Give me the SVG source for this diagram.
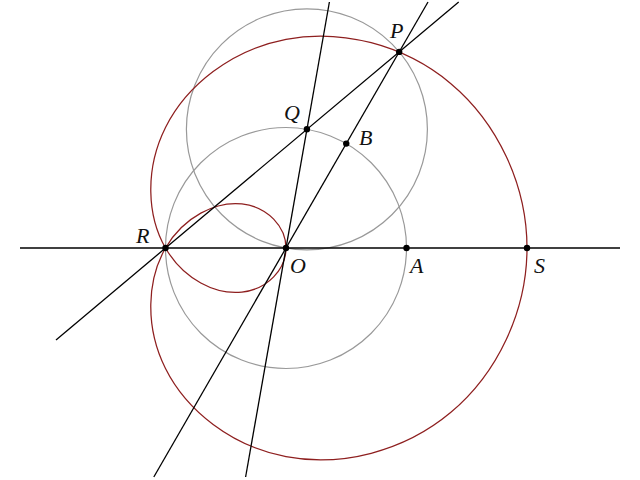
<svg xmlns="http://www.w3.org/2000/svg" width="640" height="480" viewBox="0 0 640 480">
<style>
.circ{fill:none;stroke:#999;stroke-width:1.2}
.curve{fill:none;stroke:#8e1f1f;stroke-width:1.25}
.ln{fill:none;stroke:#000;stroke-width:1.3}
.pt{fill:#000}
.lbl{font-family:"Liberation Serif",serif;font-style:italic;font-size:22px;fill:#111}
</style>
<rect width="640" height="480" fill="#fff"/>
<g id="circle-O"><circle class="circ" cx="286" cy="248" r="120.5"/></g>
<g id="circle-Q"><circle class="circ" cx="306.9" cy="129.3" r="120.5"/></g>
<g id="limacon"><path class="curve" d="M527,248 C527,184.9 497.5,122.6 450.6,83.4 C403.7,44.2 340.6,28.8 286,39.3 C231.4,49.8 186.5,85.4 165.5,127.5 C144.5,169.6 147.3,216.5 165.5,248 C183.7,279.6 216,294.9 241.9,292.1 C267.8,289.3 286,269 286,248 C286,227 267.8,206.7 241.9,203.9 C216,201.1 183.7,216.5 165.5,248 C147.3,279.6 144.5,326.5 165.5,368.5 C186.5,410.6 231.4,446.2 286,456.7 C340.6,467.2 403.7,451.8 450.6,412.6 C497.5,373.4 527,311.1 527,248 Z"/></g>
<g id="connectors">
<line class="ln" x1="20" y1="248" x2="620" y2="248"/>
<line class="ln" x1="56" y1="339.9" x2="458.7" y2="2"/>
<line class="ln" x1="153.8" y1="477" x2="428" y2="2"/>
<line class="ln" x1="245.6" y1="477" x2="329.4" y2="2"/>
</g>
<g id="node-R"><circle class="pt" cx="165.5" cy="248" r="3.2"/><text class="lbl" x="136" y="243">R</text></g>
<g id="node-O"><circle class="pt" cx="286" cy="248" r="3.2"/><text class="lbl" x="290" y="273">O</text></g>
<g id="node-A"><circle class="pt" cx="406.5" cy="248" r="3.2"/><text class="lbl" x="410" y="273">A</text></g>
<g id="node-S"><circle class="pt" cx="527" cy="248" r="3.2"/><text class="lbl" x="534" y="273">S</text></g>
<g id="node-P"><circle class="pt" cx="399.2" cy="51.9" r="3.2"/><text class="lbl" x="390" y="38">P</text></g>
<g id="node-Q"><circle class="pt" cx="306.9" cy="129.3" r="3.2"/><text class="lbl" x="284" y="120">Q</text></g>
<g id="node-B"><circle class="pt" cx="346.25" cy="143.6" r="3.2"/><text class="lbl" x="359" y="145">B</text></g>
</svg>
